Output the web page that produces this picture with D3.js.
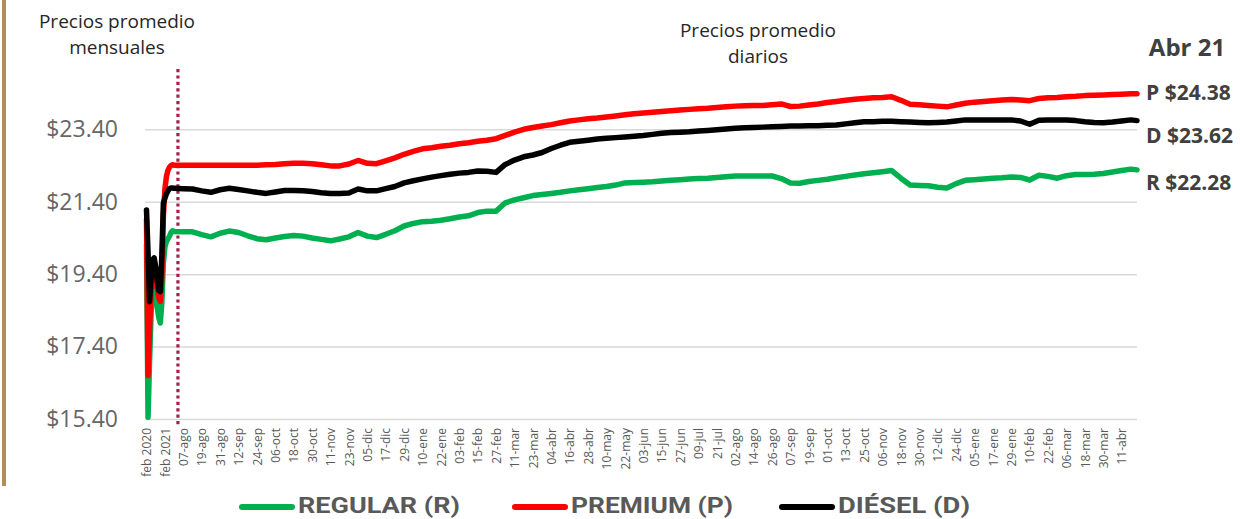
<!DOCTYPE html>
<html>
<head>
<meta charset="utf-8">
<script src="https://cdn.jsdelivr.net/npm/d3@7"></script>
<style>
  body { margin: 0; background: #fff; }
  text { font-family: "Open Sans", sans-serif; }
</style>
</head>
<body>
<script>
// precios mensuales (feb 2020 - jul 2021)
var monthLabels = ["feb 2020", "mar 2020", "abr 2020", "may 2020", "jun 2020", "jul 2020", "ago 2020", "sep 2020",
  "oct 2020", "nov 2020", "dic 2020", "ene 2021", "feb 2021", "mar 2021", "abr 2021", "may 2021", "jun 2021", "jul 2021"];
var monthRegular = [20.2, 15.45, 17.0, 18.3, 18.9, 19.1, 18.9, 18.5, 18.2, 18.05, 18.6, 19.7, 20.15, 20.3, 20.38, 20.45, 20.55, 20.6];
var monthPremium = [20.9, 16.6, 17.9, 18.9, 19.4, 19.5, 19.3, 19.0, 18.75, 18.65, 19.3, 21.0, 21.75, 22.1, 22.27, 22.35, 22.4, 22.42];
var monthDiesel  = [21.17, 20.0, 18.64, 19.3, 19.8, 19.85, 19.6, 19.2, 18.95, 18.92, 19.9, 21.36, 21.5, 21.62, 21.7, 21.76, 21.78, 21.78];

// precios diarios, leidos cada 6 dias desde el 01-ago-2021 (ultimo punto 21-abr-2023)
var dayStart = new Date(2021, 7, 1);
var dayEnd = new Date(2023, 3, 21);
var sampleOffsets = d3.range(0, 625, 6).concat([628]);
var dayRegular = [20.58, 20.57, 20.57, 20.49, 20.43, 20.53, 20.59, 20.55, 20.46, 20.38,
  20.35, 20.40, 20.44, 20.47, 20.45, 20.40, 20.36, 20.32, 20.37, 20.43,
  20.55, 20.45, 20.41, 20.50, 20.60, 20.73, 20.80, 20.85, 20.86, 20.89,
  20.93, 20.98, 21.01, 21.10, 21.14, 21.14, 21.37, 21.45, 21.51, 21.57,
  21.60, 21.63, 21.66, 21.70, 21.73, 21.76, 21.79, 21.82, 21.86, 21.92,
  21.93, 21.94, 21.95, 21.97, 21.99, 22.01, 22.03, 22.04, 22.05, 22.07,
  22.09, 22.11, 22.11, 22.11, 22.11, 22.11, 22.04, 21.92, 21.91, 21.96,
  21.99, 22.02, 22.06, 22.10, 22.14, 22.17, 22.20, 22.23, 22.26, 22.05,
  21.86, 21.85, 21.84, 21.80, 21.78, 21.90, 21.99, 22.01, 22.03, 22.05,
  22.06, 22.08, 22.07, 22.00, 22.13, 22.10, 22.05, 22.12, 22.15, 22.15,
  22.16, 22.18, 22.22, 22.26, 22.30, 22.28];
var dayPremium = [22.41, 22.41, 22.41, 22.41, 22.41, 22.41, 22.41, 22.41, 22.41, 22.41,
  22.42, 22.43, 22.45, 22.46, 22.46, 22.45, 22.42, 22.39, 22.39, 22.44,
  22.54, 22.46, 22.45, 22.53, 22.61, 22.71, 22.79, 22.86, 22.89, 22.93,
  22.96, 23.00, 23.03, 23.07, 23.10, 23.14, 23.23, 23.32, 23.40, 23.45,
  23.49, 23.53, 23.58, 23.63, 23.66, 23.69, 23.71, 23.74, 23.77, 23.80,
  23.83, 23.85, 23.87, 23.89, 23.91, 23.93, 23.95, 23.97, 23.98, 24.00,
  24.02, 24.04, 24.05, 24.06, 24.06, 24.08, 24.10, 24.03, 24.04, 24.07,
  24.10, 24.14, 24.17, 24.20, 24.23, 24.25, 24.27, 24.28, 24.30, 24.20,
  24.09, 24.08, 24.06, 24.04, 24.02, 24.07, 24.12, 24.15, 24.17, 24.19,
  24.21, 24.22, 24.21, 24.19, 24.25, 24.27, 24.28, 24.30, 24.31, 24.33,
  24.34, 24.35, 24.36, 24.37, 24.38, 24.38];
var dayDiesel = [21.77, 21.76, 21.75, 21.70, 21.66, 21.73, 21.77, 21.74, 21.70, 21.66,
  21.63, 21.67, 21.71, 21.71, 21.70, 21.68, 21.65, 21.63, 21.63, 21.64,
  21.75, 21.70, 21.70, 21.76, 21.82, 21.92, 21.98, 22.03, 22.08, 22.12,
  22.16, 22.19, 22.21, 22.25, 22.24, 22.21, 22.43, 22.55, 22.64, 22.69,
  22.76, 22.87, 22.96, 23.04, 23.07, 23.10, 23.13, 23.15, 23.17, 23.19,
  23.21, 23.23, 23.26, 23.29, 23.31, 23.32, 23.33, 23.35, 23.37, 23.39,
  23.41, 23.43, 23.44, 23.45, 23.46, 23.47, 23.48, 23.49, 23.49, 23.50,
  23.50, 23.51, 23.52, 23.55, 23.58, 23.61, 23.61, 23.62, 23.62, 23.61,
  23.60, 23.59, 23.58, 23.59, 23.60, 23.63, 23.66, 23.66, 23.66, 23.66,
  23.66, 23.66, 23.63, 23.54, 23.65, 23.66, 23.66, 23.66, 23.64, 23.61,
  23.59, 23.58, 23.60, 23.63, 23.66, 23.64];

var yTicks = [15.4, 17.4, 19.4, 21.4, 23.4];
var mesesCortos = ["ene", "feb", "mar", "abr", "may", "jun", "jul", "ago", "sep", "oct", "nov", "dic"];
var seriesNames = ["REGULAR (R)", "PREMIUM (P)", "DIÉSEL (D)"];
var seriesColors = ["#00b050", "#ff0000", "#000000"];
var endLabels = ["P $24.38", "D $23.62", "R $22.28"];

var W = 1240, H = 519;
var svg = d3.select("body").append("svg").attr("width", W).attr("height", H);
svg.append("rect").attr("width", W).attr("height", H).attr("fill", "#fff");

// categorias: meses + dias
var fmtDay = d3.timeFormat("%d");
var days = d3.timeDay.range(dayStart, d3.timeDay.offset(dayEnd, 1));
var categories = monthLabels.concat(days.map(function(d) {
  return fmtDay(d) + "-" + mesesCortos[d.getMonth()];
}));
var nMonth = monthLabels.length;

var x = d3.scaleLinear().domain([0, categories.length - 1]).range([146.5, 1137]);
var y = d3.scaleLinear().domain([15.4, 23.4]).range([419, 129.3]);

function buildSeries(monthVals, dayVals) {
  var pts = monthVals.map(function(v, i) { return { i: i, v: v }; });
  dayVals.forEach(function(v, k) { pts.push({ i: nMonth + sampleOffsets[k], v: v }); });
  return pts;
}
var series = [
  buildSeries(monthRegular, dayRegular),
  buildSeries(monthPremium, dayPremium),
  buildSeries(monthDiesel, dayDiesel)
];

// barra dorada izquierda
svg.append("rect").attr("x", 2).attr("y", 0).attr("width", 4).attr("height", 486).attr("fill", "#b38e5d");

// eje y con rejilla
var yAxis = svg.append("g")
  .attr("transform", "translate(145,0)")
  .call(d3.axisLeft(y).tickValues(yTicks).tickSize(-(1137 - 145)).tickPadding(27)
    .tickFormat(function(d) { return "$" + d.toFixed(2); }));
yAxis.select(".domain").remove();
yAxis.selectAll(".tick line").attr("stroke", "#d9d9d9").attr("stroke-width", 1.5);
yAxis.selectAll(".tick text").attr("fill", "#666666").style("font-size", "23px")
  .style("font-family", "'Open Sans', sans-serif");

// eje x
var tickIdx = d3.range(0, categories.length, 12);
var xAxis = svg.append("g")
  .attr("transform", "translate(0,419)")
  .call(d3.axisBottom(x).tickValues(tickIdx).tickSize(0)
    .tickFormat(function(i) { return categories[i]; }));
xAxis.select(".domain").remove();
xAxis.selectAll(".tick text")
  .attr("transform", "rotate(-90)")
  .attr("x", -9).attr("y", 0).attr("dy", "0.35em")
  .attr("text-anchor", "end")
  .attr("fill", "#595959")
  .style("font-size", "12px")
  .style("font-family", "'Open Sans', sans-serif");

// separador mensual / diario
svg.append("line")
  .attr("x1", x(20.5)).attr("x2", x(20.5))
  .attr("y1", 69).attr("y2", 426)
  .attr("stroke", "#a0234b").attr("stroke-width", 3.2)
  .attr("stroke-dasharray", "3.2,3.2");

// lineas
var line = d3.line().x(function(d) { return x(d.i); }).y(function(d) { return y(d.v); });
svg.selectAll("path.serie").data(series).enter().append("path")
  .attr("class", "serie")
  .attr("d", line)
  .attr("fill", "none")
  .attr("stroke", function(d, i) { return seriesColors[i]; })
  .attr("stroke-width", 5.5)
  .attr("stroke-linejoin", "round")
  .attr("stroke-linecap", "round");

// titulos, una linea por elemento
function title(lines, cx, y0) {
  lines.forEach(function(s, k) {
    svg.append("text").attr("x", cx).attr("y", y0 + k * 26)
      .attr("text-anchor", "middle").attr("fill", "#262626").style("font-size", "19px")
      .text(s);
  });
}
title(["Precios promedio", "mensuales"], 117, 28);
title(["Precios promedio", "diarios"], 758, 37);

svg.append("text").attr("x", 1187).attr("y", 56).attr("text-anchor", "middle")
  .attr("fill", "#404040").style("font-size", "24px").style("font-weight", "bold").text("Abr 21");

var endY = [100, 143, 190];
svg.selectAll("text.fin").data(endLabels).enter().append("text")
  .attr("class", "fin")
  .attr("x", 1146).attr("y", function(d, i) { return endY[i]; })
  .attr("fill", "#404040").style("font-size", "21px").style("font-weight", "bold")
  .text(function(d) { return d; });

// leyenda
var legX = [240, 513, 780];
var legW = [162, 162, 132];
var leg = svg.selectAll("g.leg").data(seriesNames).enter().append("g")
  .attr("class", "leg")
  .attr("transform", function(d, i) { return "translate(" + legX[i] + ",507)"; });
leg.append("line").attr("x1", 2).attr("x2", 52).attr("y1", 0).attr("y2", 0)
  .attr("stroke", function(d, i) { return seriesColors[i]; })
  .attr("stroke-width", 6).attr("stroke-linecap", "round");
leg.append("text").attr("x", 58).attr("y", 6)
  .attr("fill", "#595959").style("font-size", "22px").style("font-weight", "bold")
  .style("font-family", "Roboto, sans-serif")
  .attr("textLength", function(d, i) { return legW[i]; })
  .attr("lengthAdjust", "spacingAndGlyphs")
  .text(function(d) { return d; });
</script>
</body>
</html>
